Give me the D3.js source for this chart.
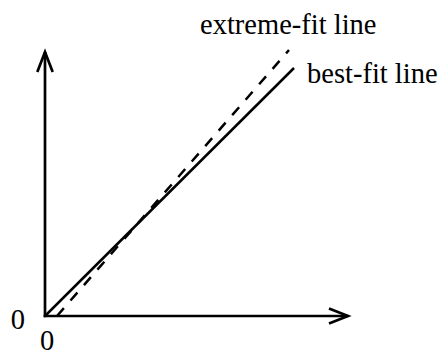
<!DOCTYPE html>
<html>
<head>
<meta charset="utf-8">
<script src="https://cdn.jsdelivr.net/npm/d3@7"></script>
<style>
  html, body { margin: 0; padding: 0; background: #fff; }
  svg { display: block; }
</style>
</head>
<body>
<svg id="chart" width="441" height="352"></svg>
<script>
// ---- data (chart units) ----
const xExtent = [0, 30.3];
const yExtent = [0, 26.4];
const tickValues = [0];
const tickLabels = ["0"];
const bestFitLine = [[0, 0], [24.9, 24.8]];
const extremeFitLine = [[1.2, 0], [24.4, 26.6]];
const lineLabels = ["extreme-fit line", "best-fit line"];

// ---- drawing ----
const svg = d3.select("#chart");
const font = "'Liberation Serif', 'Times New Roman', serif";
const fs = 28.5;

const x = d3.scaleLinear().domain(xExtent).range([45, 348]);
const y = d3.scaleLinear().domain(yExtent).range([316, 52]);

const axisW = 2.7;

// X axis
const gx = svg.append("g").attr("transform", `translate(0,${y(0)})`)
  .call(d3.axisBottom(x).tickValues(tickValues).tickFormat((d, i) => tickLabels[i])
    .tickSize(0).tickSizeOuter(0).tickPadding(14));
gx.select(".domain").attr("stroke", "#000").attr("stroke-width", axisW)
  .attr("d", `M${x(0) - axisW / 2},0H${x(xExtent[1])}`);
gx.selectAll("text").attr("font-family", font).attr("font-size", fs)
  .attr("fill", "#000").attr("dx", 1.5);

// Y axis
const gy = svg.append("g").attr("transform", `translate(${x(0)},0)`)
  .call(d3.axisLeft(y).tickValues(tickValues).tickFormat((d, i) => tickLabels[i])
    .tickSize(0).tickSizeOuter(0).tickPadding(20));
gy.select(".domain").attr("stroke", "#000").attr("stroke-width", axisW)
  .attr("d", `M0,${y(0) + axisW / 2}V${y(yExtent[1])}`);
gy.selectAll("text").attr("font-family", font).attr("font-size", fs)
  .attr("fill", "#000").attr("dy", "0.43em");

// Arrowheads (open chevrons)
const ax = x(xExtent[1]), ay = y(0);
svg.append("path")
  .attr("d", `M${ax - 19},${ay - 7.5}L${ax},${ay}L${ax - 19},${ay + 7.5}`)
  .attr("fill", "none").attr("stroke", "#000").attr("stroke-width", axisW);
const bx = x(0), by = y(yExtent[1]);
svg.append("path")
  .attr("d", `M${bx - 7.7},${by + 20}L${bx},${by}L${bx + 7.7},${by + 20}`)
  .attr("fill", "none").attr("stroke", "#000").attr("stroke-width", axisW);

const line = d3.line().x(d => x(d[0])).y(d => y(d[1]));

svg.append("path").datum(bestFitLine).attr("d", line)
  .attr("fill", "none").attr("stroke", "#000").attr("stroke-width", 2.5);
svg.append("path").datum(extremeFitLine).attr("d", line)
  .attr("fill", "none").attr("stroke", "#000").attr("stroke-width", 2.5)
  .attr("stroke-dasharray", "10.5,10");

// Line labels
svg.append("text").attr("x", 200).attr("y", 34)
  .attr("font-family", font).attr("font-size", fs).attr("fill", "#000")
  .text(lineLabels[0]);
svg.append("text").attr("x", 307).attr("y", 83)
  .attr("font-family", font).attr("font-size", fs).attr("fill", "#000")
  .text(lineLabels[1]);
</script>
</body>
</html>
